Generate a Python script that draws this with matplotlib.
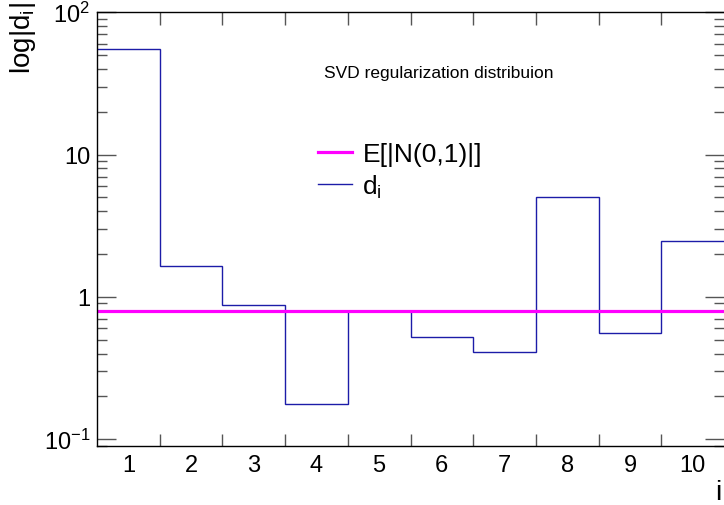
import numpy as np
import matplotlib
matplotlib.use("Agg")
import matplotlib.pyplot as plt
from matplotlib.ticker import FixedLocator, FixedFormatter, LogLocator, NullFormatter

plt.rcParams['font.family'] = ['Liberation Sans', 'DejaVu Sans']
plt.rcParams['mathtext.fontset'] = 'custom'
plt.rcParams['mathtext.rm'] = 'Liberation Sans'
plt.rcParams['mathtext.it'] = 'Liberation Sans'

# bin index and |d_i| values
bins = [1, 2, 3, 4, 5, 6, 7, 8, 9, 10]
d_values = [55.0, 1.65, 0.88, 0.178, 0.79, 0.52, 0.41, 5.0, 0.56, 2.47]
expected = np.sqrt(2 / np.pi)  # E[|N(0,1)|]

title = "SVD regularization distribuion"

fig = plt.figure(figsize=(7.24, 5.06), dpi=100)
ax = fig.add_axes([0.134, 0.117, 0.866, 0.857])

edges = np.arange(0.5, len(bins) + 1)
ax.stairs(d_values, edges, color='#1c1ca8', linewidth=1.0, baseline=None, label=r'd$_{\mathregular{i}}$')
ax.axhline(expected, color='#ff00ff', linewidth=2.3, label='E[|N(0,1)|]')

ax.set_yscale('log')
ax.set_xlim(0.5, 10.5)
ax.set_ylim(0.09, 100)

tick_col = '#555555'
# x: ticks on bin edges, labels at bin centers
ax.xaxis.set_major_locator(FixedLocator(edges[1:-1]))
ax.xaxis.set_major_formatter(NullFormatter())
ax.xaxis.set_minor_locator(FixedLocator(bins))
ax.xaxis.set_minor_formatter(FixedFormatter([str(b) for b in bins]))
ax.tick_params(axis='x', which='major', direction='in', length=9, top=True, width=1, color=tick_col)
ax.tick_params(axis='x', which='minor', length=0, labelsize=17, pad=6)

ax.yaxis.set_major_locator(FixedLocator([0.1, 1, 10, 100]))
ax.yaxis.set_major_formatter(FixedFormatter([r'$10^{-1}$', '1', '10', r'$10^{2}$']))
ax.yaxis.set_minor_locator(LogLocator(base=10, subs=np.arange(2, 10)))
ax.yaxis.set_minor_formatter(NullFormatter())
ax.tick_params(axis='y', which='major', direction='in', length=14, right=True, labelsize=17,
               width=1, pad=5, color=tick_col)
ax.tick_params(axis='y', which='minor', direction='in', length=7, right=True, width=1, color=tick_col)

ax.spines['right'].set_visible(False)
for s in ['left', 'bottom', 'top']:
    ax.spines[s].set_linewidth(1.0)

ax.text(0.545, 0.86, title, transform=ax.transAxes, ha='center', va='center', fontsize=12.5)

handles, labels = ax.get_legend_handles_labels()
ax.legend(handles[::-1], labels[::-1], loc='upper left', bbox_to_anchor=(0.335, 0.725),
          frameon=False, fontsize=19, handlelength=1.3, handletextpad=0.4,
          labelspacing=0.25, borderaxespad=0)

fig.text(0.032, 0.995, r'log|d$_{\mathregular{i}}$|', rotation=90, ha='center', va='top', fontsize=20)
fig.text(0.997, 0.025, 'i', ha='right', va='center', fontsize=20)

fig.savefig('out.png', dpi=100)
